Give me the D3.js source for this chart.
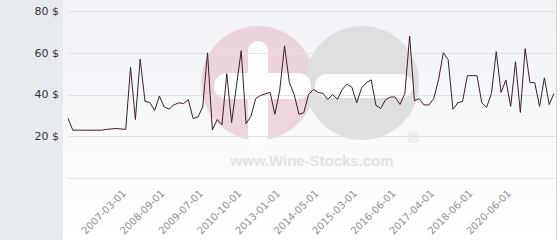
<!DOCTYPE html>
<html>
<head>
<meta charset="utf-8">
<script src="https://cdn.jsdelivr.net/npm/d3@7"></script>
<style>
  body { margin: 0; background: #fff; }
  svg { display: block; font-family: "DejaVu Sans", Verdana, sans-serif; }
</style>
</head>
<body>
<svg id="chart" width="560" height="240"></svg>
<script>
const values = [
  28.6, 22.9, 22.9, 22.9, 22.9, 22.9, 22.9, 22.9, 23.3, 23.5,
  23.7, 23.5, 23.3, 53, 28, 57, 36.7, 36.2, 32.3, 39.3,
  34, 33, 35, 36, 35.7, 37.5, 28.5, 29.2, 34, 60,
  23, 28, 25.5, 50, 26.5, 44, 61, 26, 29.5, 38,
  39.5, 40.3, 41, 30.5, 42, 63.3, 45.8, 40, 30.5, 31.3,
  40, 42.4, 41, 40.5, 37.6, 40, 37.6, 42.4, 45, 43.5,
  36, 43, 45.7, 47, 34.8, 33.3, 37.5, 38.8, 38.8, 35.2,
  40.5, 68, 37, 38, 35, 35, 38, 47, 60, 56.7,
  32.9, 36, 36.7, 49, 49, 49, 36, 33.8, 40.5, 60.5,
  41, 47, 34.3, 55.7, 31.4, 62, 45.7, 45.7, 34.3, 48,
  35.2, 40.5
];
const tickIndex = [12, 20, 28, 36, 44, 52, 60, 68, 76, 84, 92];
const tickLabels = ['2007-03-01', '2008-09-01', '2009-07-01', '2010-10-01', '2013-01-01',
  '2014-05-01', '2015-03-01', '2016-06-01', '2017-04-01', '2018-06-01', '2020-06-01'];
const yTicks = [0, 20, 40, 60, 80];

const svg = d3.select('#chart');
const width = +svg.attr('width');
const height = +svg.attr('height');

const x = d3.scaleLinear().domain([0, values.length - 1]).range([68, 554]);
const y = d3.scaleLinear().domain([0, 80]).range([178, 11]);

const defs = svg.append('defs');
const grad = defs.append('linearGradient')
  .attr('id', 'bg').attr('x1', 0).attr('y1', 0).attr('x2', 0).attr('y2', 1);
grad.append('stop').attr('offset', '0%').attr('stop-color', '#f1f2f7');
grad.append('stop').attr('offset', '100%').attr('stop-color', '#ffffff');

svg.append('rect').attr('width', width).attr('height', height).attr('fill', '#fff');
svg.append('rect').attr('x', 63).attr('width', 493).attr('height', height).attr('fill', 'url(#bg)');
svg.append('rect').attr('width', 63).attr('height', height).attr('fill', '#e7ebef');
svg.append('line')
  .attr('x1', 556.5).attr('x2', 556.5).attr('y1', 0).attr('y2', height)
  .attr('stroke', '#d4d4d4');

// watermark
const wm = svg.append('g').attr('opacity', 0.8);
wm.append('circle').attr('cx', 258).attr('cy', 83).attr('r', 57).attr('fill', '#ecccd4');
wm.append('circle').attr('cx', 362).attr('cy', 83).attr('r', 57).attr('fill', '#dadada');
wm.append('rect').attr('x', 248).attr('y', 41).attr('width', 20).attr('height', 105)
  .attr('rx', 10).attr('fill', '#fff');
wm.append('rect').attr('x', 214).attr('y', 73).attr('width', 97).attr('height', 26)
  .attr('rx', 13).attr('fill', '#fff');
wm.append('rect').attr('x', 315).attr('y', 74).attr('width', 98).attr('height', 24)
  .attr('rx', 12).attr('fill', '#fff');
wm.append('text').attr('x', 312).attr('y', 166)
  .attr('text-anchor', 'middle')
  .attr('font-family', 'Liberation Sans, Arial, sans-serif')
  .attr('font-weight', 'bold').attr('font-size', 15)
  .attr('textLength', 163)
  .attr('fill', '#dedede')
  .text('www.Wine-Stocks.com');
wm.append('text').attr('x', 413).attr('y', 143)
  .attr('text-anchor', 'middle')
  .attr('font-family', 'Liberation Sans, Arial, sans-serif')
  .attr('font-size', 15)
  .attr('fill', '#d4d4d4')
  .text('®');

// grid
svg.append('g')
  .selectAll('line')
  .data(yTicks)
  .enter().append('line')
  .attr('x1', 68).attr('x2', 555)
  .attr('y1', d => Math.round(y(d)) + 0.5)
  .attr('y2', d => Math.round(y(d)) + 0.5)
  .attr('stroke', '#e2e2e6');

svg.append('g')
  .selectAll('text')
  .data(yTicks.filter(d => d > 0))
  .enter().append('text')
  .attr('x', 59)
  .attr('y', d => y(d))
  .attr('dy', '0.35em')
  .attr('text-anchor', 'end')
  .attr('font-size', 11)
  .attr('fill', '#333')
  .text(d => d + ' $');

svg.append('g')
  .selectAll('text')
  .data(tickIndex)
  .enter().append('text')
  .attr('text-anchor', 'end')
  .attr('font-size', 10)
  .attr('fill', '#909090')
  .attr('transform', d => 'translate(' + (x(d) + 1) + ',194) rotate(-45)')
  .text((d, i) => tickLabels[i]);

// price line
const line = d3.line()
  .x((d, i) => x(i))
  .y(d => y(d));

svg.append('path')
  .datum(values)
  .attr('fill', 'none')
  .attr('stroke', '#3b1f2c')
  .attr('stroke-width', 1)
  .attr('d', line);
</script>
</body>
</html>
